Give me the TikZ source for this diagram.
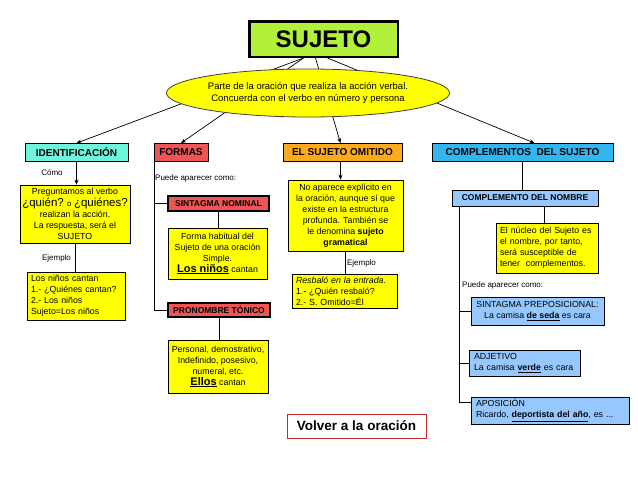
\documentclass[tikz,border=0pt]{standalone}
\usepackage{fontspec}
\setmainfont{Liberation Sans}
\usetikzlibrary{shapes.geometric,arrows.meta}
\definecolor{limef}{RGB}{178,240,60}
\definecolor{yel}{RGB}{255,255,0}
\definecolor{aqua}{RGB}{110,245,220}
\definecolor{redf}{RGB}{238,85,85}
\definecolor{orng}{RGB}{255,170,30}
\definecolor{bluef}{RGB}{51,181,240}
\definecolor{lblue}{RGB}{150,200,255}
\definecolor{volred}{RGB}{200,40,40}
\begin{document}
\begin{tikzpicture}[x=1pt,y=-1pt,
  every node/.style={inner sep=0pt},
  hdr/.style={draw=black, line width=0.8pt, font=\fontsize{10}{12}\bfseries\selectfont, minimum height=18pt},
  ybox/.style={draw=black, line width=0.6pt, fill=yel, align=center, font=\fontsize{8.8}{11}\selectfont},
  lbox/.style={ybox, align=left, inner xsep=4pt},
  redbox/.style={draw=black, line width=1.6pt, fill=redf, font=\fontsize{8.5}{10}\bfseries\selectfont},
  bbox/.style={draw=black, line width=0.6pt, fill=lblue, font=\fontsize{8.8}{11}\selectfont},
  lbl/.style={font=\fontsize{8}{9}\selectfont},
  conn/.style={line width=0.7pt, draw=black},
  arr/.style={conn, -{Stealth[length=5pt,width=4pt]}},
]
\useasboundingbox (0,0) rectangle (638,479);

% title
\node[draw=black, line width=2.5pt, fill=limef, minimum width=148.5pt, minimum height=35.5pt,
      font=\fontsize{24}{28}\bfseries\selectfont] (sujeto) at (323.5,39) {SUJETO};

% headers
\node[hdr, fill=aqua, minimum width=103pt] (ident) at (76.5,152.5) {IDENTIFICACIÓN};
\node[hdr, fill=redf, minimum width=54pt] (formas) at (181,152.5) {FORMAS};
\node[hdr, fill=orng, minimum width=119pt] (omit) at (342.5,152.5) {EL SUJETO OMITIDO};
\node[hdr, fill=bluef, minimum width=181pt] (comp) at (522.5,152.5) {COMPLEMENTOS\ \ DEL SUJETO};

% connectors from title
\draw[arr] ([xshift=-20pt]sujeto.south) -- (ident.north);
\draw[arr] ([xshift=-20pt]sujeto.south) -- (formas.north);
\draw[arr] ([xshift=-8pt]sujeto.south) -- ([xshift=-2pt]omit.north);
\draw[arr] ([xshift=4pt]sujeto.south) -- ([xshift=12pt]comp.north);

% definition ellipse
\node[ellipse, draw=black!85!yellow, line width=0.8pt, fill=yel, minimum width=277pt, minimum height=48pt,
      align=center, font=\fontsize{9.5}{11.5}\selectfont] (def) at (308,93)
  {Parte de la oración que realiza la acción verbal.\\ Concuerda con el verbo en número y persona};

% IDENTIFICACION column
\node[ybox, minimum width=110pt, minimum height=58pt] (ib1) at (75,214)
  {Preguntamos al verbo\\[1pt]
   {\fontsize{11.5}{13}\selectfont ¿quién?} {\fontsize{8}{9}\selectfont o} {\fontsize{11.5}{13}\selectfont ¿quiénes?}\\
   realizan la acción.\\ La respuesta, será el\\ SUJETO};
\draw[arr] (ident.south) -- (ident.south |- ib1.north);
\node[lbl] (como) at (52,173) {Cómo};
\node[lbox, text width=90pt, minimum height=48pt] (ib2) at (76,296)
  {Los niños cantan\\ 1.- ¿Quiénes cantan?\\ 2.- Los niños\\ Sujeto=Los niños};
\draw[conn] (ib1.south) -- (ib1.south |- ib2.north);
\node[lbl] (ej1) at (56.5,258) {Ejemplo};

% FORMAS column
\node[lbl, anchor=west] (pac1) at (155,178) {Puede aparecer como:};
\node[redbox, minimum width=101.5pt, minimum height=15.5pt] (sn) at (218.5,203.5) {SINTAGMA NOMINAL};
\node[ybox, minimum width=99pt, minimum height=51pt] (snbox) at (217.5,253.5)
  {Forma habitual del\\ Sujeto de una oración\\ Simple.\\
   {\fontsize{11}{13}\bfseries\selectfont\underline{Los niños}} cantan};
\node[redbox, minimum width=102.5pt, minimum height=14.5pt] (pt) at (219,310) {PRONOMBRE TÓNICO};
\node[ybox, minimum width=100pt, minimum height=53pt] (ptbox) at (218,366.5)
  {Personal, demostrativo,\\ Indefinido, posesivo,\\ numeral, etc.\\
   {\fontsize{11}{13}\bfseries\selectfont\underline{Ellos}} cantan};
\coordinate (fx) at ([xshift=1pt]formas.south west);
\draw[conn] (fx) |- (pt.west);
\draw[conn] (fx |- sn.west) -- (sn.west);
\draw[conn] (sn.south) -- (sn.south |- snbox.north);
\draw[conn] (pt.south) -- (pt.south |- ptbox.north);

% EL SUJETO OMITIDO column
\node[ybox, minimum width=115pt, minimum height=71pt] (ob1) at (345.5,215.5)
  {No aparece explícito en\\ la oración, aunque sí que\\ existe en la estructura\\ profunda. También se\\
   le denomina \textbf{sujeto}\\ \textbf{gramatical}};
\draw[arr] ([xshift=-2pt]omit.south) -- ([xshift=-2pt]omit.south |- ob1.north);
\node[lbox, text width=97pt, minimum height=34pt] (ob2) at (344.5,291)
  {\textit{Resbaló en la entrada.}\\ 1.- ¿Quién resbaló?\\ 2.- S. Omitido=Él};
\draw[conn] (ob1.south) -- (ob1.south |- ob2.north);
\node[lbl] (ej2) at (361.5,263) {Ejemplo};

% COMPLEMENTOS column
\node[bbox, minimum width=146pt, minimum height=16pt, font=\fontsize{8.5}{10}\bfseries\selectfont] (cdn) at (525,198) {COMPLEMENTO DEL NOMBRE};
\draw[conn] (comp.south) -- (comp.south |- cdn.north);
\node[lbox, text width=94pt, minimum height=50pt] (cdnbox) at (547,248)
  {El núcleo del Sujeto es\\ el nombre, por tanto,\\ será susceptible de\\ tener\ \ complementos.};
\draw[conn] ([xshift=19pt]cdn.south) -- ([xshift=19pt]cdn.south |- cdnbox.north);
\node[lbl, anchor=west] (pac2) at (462,285) {Puede aparecer como:};
\node[bbox, align=center, minimum width=133pt, minimum height=28pt] (sp) at (537.5,311)
  {SINTAGMA PREPOSICIONAL:\\ La camisa \textbf{\underline{de seda}} es cara};
\node[bbox, align=left, inner xsep=5pt, text width=101pt, minimum height=26pt] (adj) at (524.5,363)
  {ADJETIVO\\ La camisa \textbf{\underline{verde}} es cara};
\node[bbox, align=left, inner xsep=5pt, text width=148pt, minimum height=27pt] (apo) at (550,410.5)
  {APOSICIÓN\\ Ricardo, \textbf{\underline{deportista del año}}, es ...};
\coordinate (cx) at ([xshift=8pt]cdn.south west);
\draw[conn] (cx) |- ([yshift=8pt]apo.west);
\draw[conn] (cx |- sp.west) -- (sp.west);
\draw[conn] (cx |- adj.west) -- (adj.west);

% back link
\node[draw=volred, line width=0.8pt, fill=white, minimum width=139pt, minimum height=24pt,
      font=\fontsize{13.5}{16}\bfseries\selectfont] (volver) at (356.5,426) {Volver a la oración};
\end{tikzpicture}
\end{document}
